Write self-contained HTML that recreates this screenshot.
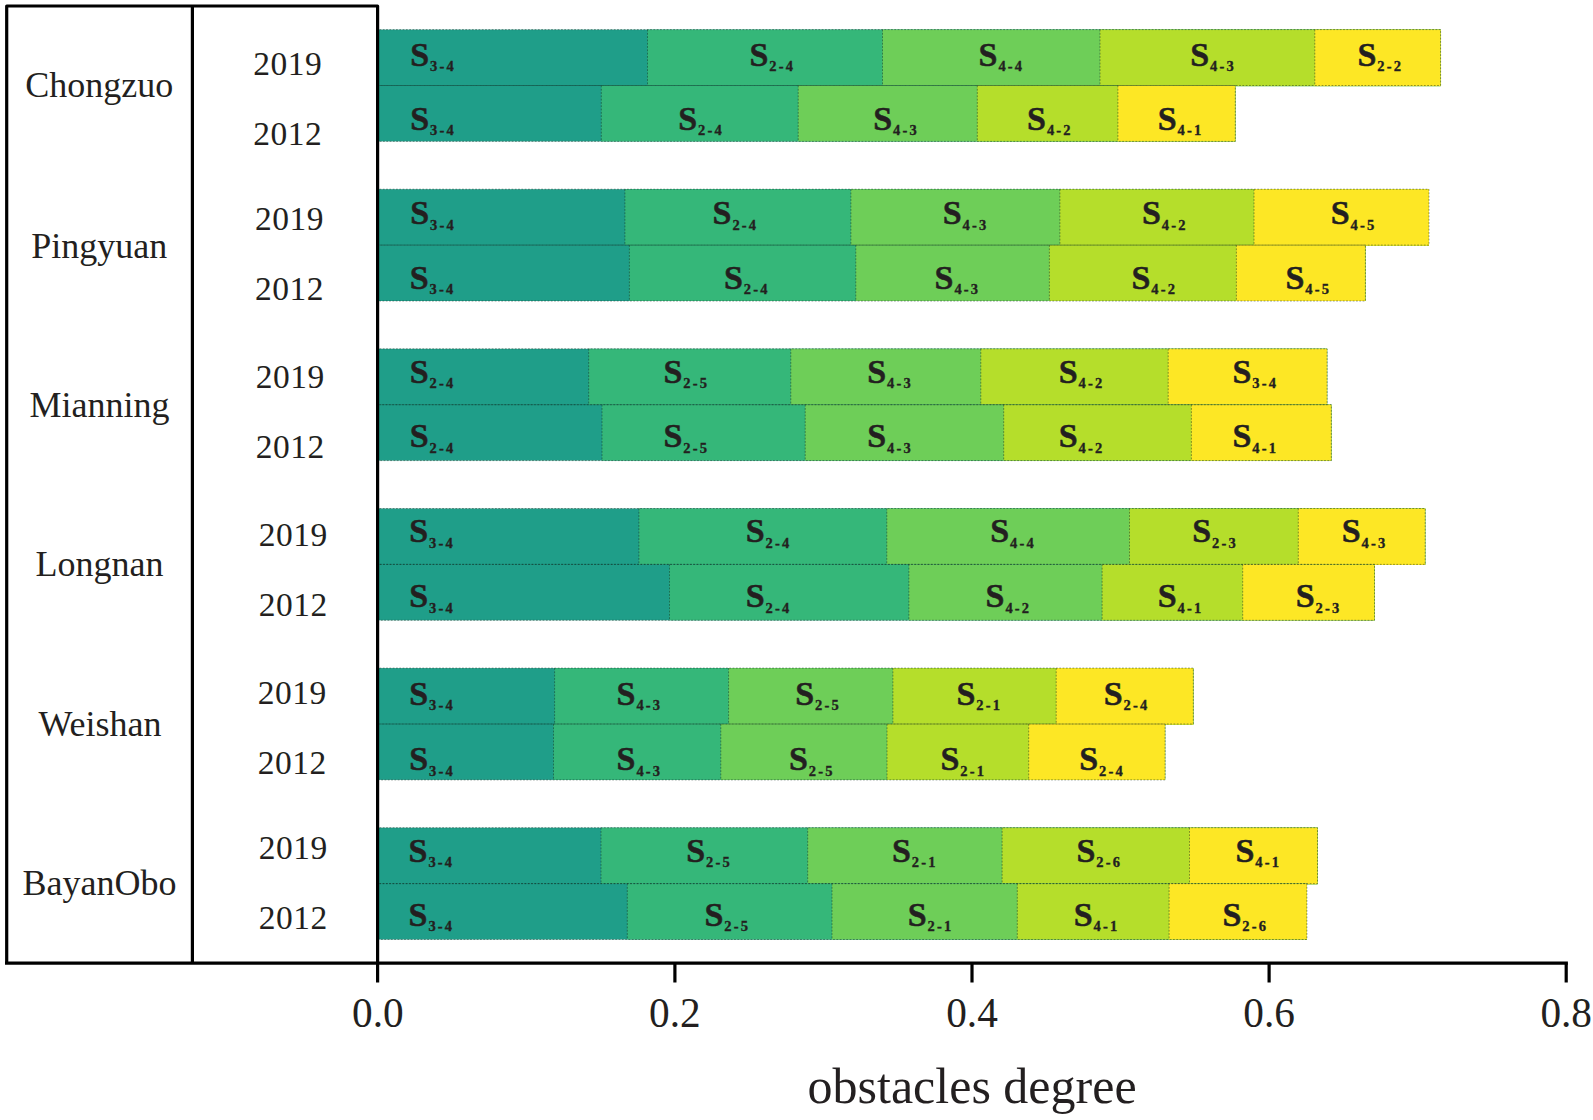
<!DOCTYPE html>
<html lang="en"><head><meta charset="utf-8"><title>obstacles degree</title>
<style>
html,body{margin:0;padding:0;background:#fff;}
svg{display:block;}
text{font-family:"Liberation Serif","Times New Roman",serif;fill:#231f20;}
.s{font-weight:bold;font-size:34px;stroke:#231f20;stroke-width:.5;}
.sub{font-weight:bold;font-size:14.5px;letter-spacing:2.2px;stroke:#231f20;stroke-width:.35;}
.yr{font-size:33.5px;letter-spacing:.5px;}
.city{font-size:36.0px;text-anchor:middle;}
.tick{font-size:41.3px;text-anchor:middle;}
.axl{font-size:50px;text-anchor:middle;}
.seg{fill:none;stroke:#10281f;stroke-opacity:.45;stroke-width:1;stroke-dasharray:1.8 1.5;}
.ln{stroke:#000;stroke-width:3.2;fill:none;stroke-linejoin:round;}
</style></head><body>
<svg width="1593" height="1120" viewBox="0 0 1593 1120">
<rect x="0" y="0" width="1593" height="1120" fill="#fff"/>
<g>
<rect x="378.0" y="29.6" width="1062.6" height="56.5" fill="#1f9e89"/>
<rect x="647.5" y="29.6" width="793.1" height="56.5" fill="#35b779"/>
<rect x="882.5" y="29.6" width="558.1" height="56.5" fill="#6ece58"/>
<rect x="1100.0" y="29.6" width="340.6" height="56.5" fill="#b5de2b"/>
<rect x="1314.8" y="29.6" width="125.8" height="56.5" fill="#fde725"/>
<text class="s" x="410.3" y="65.7">S</text><text class="sub" x="430.1" y="71.3">3-4</text>
<text class="s" x="749.5" y="65.7">S</text><text class="sub" x="769.3" y="71.3">2-4</text>
<text class="s" x="978.6" y="65.7">S</text><text class="sub" x="998.4" y="71.3">4-4</text>
<text class="s" x="1190.2" y="65.7">S</text><text class="sub" x="1210.0" y="71.3">4-3</text>
<text class="s" x="1357.5" y="65.7">S</text><text class="sub" x="1377.3" y="71.3">2-2</text>
<text class="yr" x="253.3" y="74.6">2019</text>
</g>
<g>
<rect x="378.0" y="85.5" width="857.3" height="55.9" fill="#1f9e89"/>
<rect x="601.3" y="85.5" width="634.0" height="55.9" fill="#35b779"/>
<rect x="798.2" y="85.5" width="437.1" height="55.9" fill="#6ece58"/>
<rect x="977.3" y="85.5" width="258.0" height="55.9" fill="#b5de2b"/>
<rect x="1117.9" y="85.5" width="117.4" height="55.9" fill="#fde725"/>
<text class="s" x="410.3" y="129.8">S</text><text class="sub" x="430.1" y="135.4">3-4</text>
<text class="s" x="678.2" y="129.8">S</text><text class="sub" x="698.0" y="135.4">2-4</text>
<text class="s" x="873.3" y="129.8">S</text><text class="sub" x="893.1" y="135.4">4-3</text>
<text class="s" x="1027.1" y="129.8">S</text><text class="sub" x="1046.9" y="135.4">4-2</text>
<text class="s" x="1157.8" y="129.8">S</text><text class="sub" x="1177.6" y="135.4">4-1</text>
<text class="yr" x="253.3" y="144.5">2012</text>
</g>
<g>
<rect x="378.0" y="189.2" width="1051.0" height="56.5" fill="#1f9e89"/>
<rect x="624.9" y="189.2" width="804.1" height="56.5" fill="#35b779"/>
<rect x="850.9" y="189.2" width="578.1" height="56.5" fill="#6ece58"/>
<rect x="1059.9" y="189.2" width="369.1" height="56.5" fill="#b5de2b"/>
<rect x="1254.0" y="189.2" width="175.0" height="56.5" fill="#fde725"/>
<text class="s" x="410.3" y="224.4">S</text><text class="sub" x="430.1" y="230.0">3-4</text>
<text class="s" x="712.6" y="224.4">S</text><text class="sub" x="732.4" y="230.0">2-4</text>
<text class="s" x="942.7" y="224.4">S</text><text class="sub" x="962.5" y="230.0">4-3</text>
<text class="s" x="1142.0" y="224.4">S</text><text class="sub" x="1161.8" y="230.0">4-2</text>
<text class="s" x="1330.8" y="224.4">S</text><text class="sub" x="1350.6" y="230.0">4-5</text>
<text class="yr" x="255.1" y="230.1">2019</text>
</g>
<g>
<rect x="378.0" y="245.1" width="987.4" height="55.9" fill="#1f9e89"/>
<rect x="629.4" y="245.1" width="736.0" height="55.9" fill="#35b779"/>
<rect x="855.8" y="245.1" width="509.6" height="55.9" fill="#6ece58"/>
<rect x="1049.4" y="245.1" width="316.0" height="55.9" fill="#b5de2b"/>
<rect x="1236.4" y="245.1" width="129.0" height="55.9" fill="#fde725"/>
<text class="s" x="409.8" y="288.8">S</text><text class="sub" x="429.6" y="294.4">3-4</text>
<text class="s" x="723.9" y="288.8">S</text><text class="sub" x="743.7" y="294.4">2-4</text>
<text class="s" x="934.6" y="288.8">S</text><text class="sub" x="954.4" y="294.4">4-3</text>
<text class="s" x="1131.5" y="288.8">S</text><text class="sub" x="1151.3" y="294.4">4-2</text>
<text class="s" x="1285.5" y="288.8">S</text><text class="sub" x="1305.3" y="294.4">4-5</text>
<text class="yr" x="255.1" y="299.7">2012</text>
</g>
<g>
<rect x="378.0" y="348.8" width="949.1" height="56.5" fill="#1f9e89"/>
<rect x="588.7" y="348.8" width="738.4" height="56.5" fill="#35b779"/>
<rect x="790.8" y="348.8" width="536.3" height="56.5" fill="#6ece58"/>
<rect x="980.8" y="348.8" width="346.3" height="56.5" fill="#b5de2b"/>
<rect x="1168.2" y="348.8" width="158.9" height="56.5" fill="#fde725"/>
<text class="s" x="409.8" y="382.8">S</text><text class="sub" x="429.6" y="388.4">2-4</text>
<text class="s" x="663.4" y="382.8">S</text><text class="sub" x="683.2" y="388.4">2-5</text>
<text class="s" x="867.3" y="382.8">S</text><text class="sub" x="887.1" y="388.4">4-3</text>
<text class="s" x="1058.7" y="382.8">S</text><text class="sub" x="1078.5" y="388.4">4-2</text>
<text class="s" x="1232.4" y="382.8">S</text><text class="sub" x="1252.2" y="388.4">3-4</text>
<text class="yr" x="255.7" y="387.5">2019</text>
</g>
<g>
<rect x="378.0" y="404.7" width="953.3" height="55.9" fill="#1f9e89"/>
<rect x="602.0" y="404.7" width="729.3" height="55.9" fill="#35b779"/>
<rect x="805.2" y="404.7" width="526.1" height="55.9" fill="#6ece58"/>
<rect x="1003.7" y="404.7" width="327.6" height="55.9" fill="#b5de2b"/>
<rect x="1191.4" y="404.7" width="139.9" height="55.9" fill="#fde725"/>
<text class="s" x="409.8" y="447.3">S</text><text class="sub" x="429.6" y="452.9">2-4</text>
<text class="s" x="663.4" y="447.3">S</text><text class="sub" x="683.2" y="452.9">2-5</text>
<text class="s" x="867.3" y="447.3">S</text><text class="sub" x="887.1" y="452.9">4-3</text>
<text class="s" x="1058.7" y="447.3">S</text><text class="sub" x="1078.5" y="452.9">4-2</text>
<text class="s" x="1232.4" y="447.3">S</text><text class="sub" x="1252.2" y="452.9">4-1</text>
<text class="yr" x="255.7" y="457.5">2012</text>
</g>
<g>
<rect x="378.0" y="508.5" width="1047.2" height="56.5" fill="#1f9e89"/>
<rect x="638.9" y="508.5" width="786.3" height="56.5" fill="#35b779"/>
<rect x="886.8" y="508.5" width="538.4" height="56.5" fill="#6ece58"/>
<rect x="1129.5" y="508.5" width="295.7" height="56.5" fill="#b5de2b"/>
<rect x="1298.3" y="508.5" width="126.9" height="56.5" fill="#fde725"/>
<text class="s" x="409.2" y="542.3">S</text><text class="sub" x="429.0" y="547.9">3-4</text>
<text class="s" x="745.7" y="542.3">S</text><text class="sub" x="765.5" y="547.9">2-4</text>
<text class="s" x="990.2" y="542.3">S</text><text class="sub" x="1010.0" y="547.9">4-4</text>
<text class="s" x="1192.3" y="542.3">S</text><text class="sub" x="1212.1" y="547.9">2-3</text>
<text class="s" x="1341.7" y="542.3">S</text><text class="sub" x="1361.5" y="547.9">4-3</text>
<text class="yr" x="258.7" y="546.3">2019</text>
</g>
<g>
<rect x="378.0" y="564.4" width="996.5" height="55.9" fill="#1f9e89"/>
<rect x="669.5" y="564.4" width="705.0" height="55.9" fill="#35b779"/>
<rect x="908.9" y="564.4" width="465.6" height="55.9" fill="#6ece58"/>
<rect x="1102.1" y="564.4" width="272.4" height="55.9" fill="#b5de2b"/>
<rect x="1242.7" y="564.4" width="131.8" height="55.9" fill="#fde725"/>
<text class="s" x="409.2" y="607.0">S</text><text class="sub" x="429.0" y="612.6">3-4</text>
<text class="s" x="745.7" y="607.0">S</text><text class="sub" x="765.5" y="612.6">2-4</text>
<text class="s" x="985.6" y="607.0">S</text><text class="sub" x="1005.4" y="612.6">4-2</text>
<text class="s" x="1157.8" y="607.0">S</text><text class="sub" x="1177.6" y="612.6">4-1</text>
<text class="s" x="1295.7" y="607.0">S</text><text class="sub" x="1315.5" y="612.6">2-3</text>
<text class="yr" x="258.7" y="616.2">2012</text>
</g>
<g>
<rect x="378.0" y="668.1" width="815.3" height="56.5" fill="#1f9e89"/>
<rect x="554.6" y="668.1" width="638.7" height="56.5" fill="#35b779"/>
<rect x="728.6" y="668.1" width="464.7" height="56.5" fill="#6ece58"/>
<rect x="892.9" y="668.1" width="300.4" height="56.5" fill="#b5de2b"/>
<rect x="1056.2" y="668.1" width="137.1" height="56.5" fill="#fde725"/>
<text class="s" x="409.2" y="704.8">S</text><text class="sub" x="429.0" y="710.4">3-4</text>
<text class="s" x="616.6" y="704.8">S</text><text class="sub" x="636.4" y="710.4">4-3</text>
<text class="s" x="795.2" y="704.8">S</text><text class="sub" x="815.0" y="710.4">2-5</text>
<text class="s" x="956.5" y="704.8">S</text><text class="sub" x="976.3" y="710.4">2-1</text>
<text class="s" x="1103.8" y="704.8">S</text><text class="sub" x="1123.6" y="710.4">2-4</text>
<text class="yr" x="257.8" y="704.0">2019</text>
</g>
<g>
<rect x="378.0" y="724.0" width="787.1" height="55.9" fill="#1f9e89"/>
<rect x="553.5" y="724.0" width="611.6" height="55.9" fill="#35b779"/>
<rect x="720.8" y="724.0" width="444.3" height="55.9" fill="#6ece58"/>
<rect x="887.0" y="724.0" width="278.1" height="55.9" fill="#b5de2b"/>
<rect x="1028.7" y="724.0" width="136.4" height="55.9" fill="#fde725"/>
<text class="s" x="409.2" y="770.0">S</text><text class="sub" x="429.0" y="775.6">3-4</text>
<text class="s" x="616.6" y="770.0">S</text><text class="sub" x="636.4" y="775.6">4-3</text>
<text class="s" x="788.9" y="770.0">S</text><text class="sub" x="808.7" y="775.6">2-5</text>
<text class="s" x="940.4" y="770.0">S</text><text class="sub" x="960.2" y="775.6">2-1</text>
<text class="s" x="1079.2" y="770.0">S</text><text class="sub" x="1099.0" y="775.6">2-4</text>
<text class="yr" x="257.8" y="774.3">2012</text>
</g>
<g>
<rect x="378.0" y="827.7" width="939.5" height="56.5" fill="#1f9e89"/>
<rect x="601.0" y="827.7" width="716.5" height="56.5" fill="#35b779"/>
<rect x="807.7" y="827.7" width="509.8" height="56.5" fill="#6ece58"/>
<rect x="1002.1" y="827.7" width="315.4" height="56.5" fill="#b5de2b"/>
<rect x="1189.5" y="827.7" width="128.0" height="56.5" fill="#fde725"/>
<text class="s" x="408.6" y="861.8">S</text><text class="sub" x="428.4" y="867.4">3-4</text>
<text class="s" x="686.2" y="861.8">S</text><text class="sub" x="706.0" y="867.4">2-5</text>
<text class="s" x="892.0" y="861.8">S</text><text class="sub" x="911.8" y="867.4">2-1</text>
<text class="s" x="1076.5" y="861.8">S</text><text class="sub" x="1096.3" y="867.4">2-6</text>
<text class="s" x="1235.4" y="861.8">S</text><text class="sub" x="1255.2" y="867.4">4-1</text>
<text class="yr" x="258.7" y="859.2">2019</text>
</g>
<g>
<rect x="378.0" y="883.6" width="928.9" height="55.9" fill="#1f9e89"/>
<rect x="627.3" y="883.6" width="679.6" height="55.9" fill="#35b779"/>
<rect x="832.0" y="883.6" width="474.9" height="55.9" fill="#6ece58"/>
<rect x="1017.3" y="883.6" width="289.6" height="55.9" fill="#b5de2b"/>
<rect x="1169.1" y="883.6" width="137.8" height="55.9" fill="#fde725"/>
<text class="s" x="408.6" y="925.8">S</text><text class="sub" x="428.4" y="931.4">3-4</text>
<text class="s" x="704.5" y="925.8">S</text><text class="sub" x="724.3" y="931.4">2-5</text>
<text class="s" x="907.8" y="925.8">S</text><text class="sub" x="927.6" y="931.4">2-1</text>
<text class="s" x="1073.7" y="925.8">S</text><text class="sub" x="1093.5" y="931.4">4-1</text>
<text class="s" x="1222.4" y="925.8">S</text><text class="sub" x="1242.2" y="931.4">2-6</text>
<text class="yr" x="258.7" y="928.6">2012</text>
</g>
<path class="seg" d="M379.5 29.6 H1440.6 V85.5 H379.5 M647.5 29.6 V85.5 M882.5 29.6 V85.5 M1100.0 29.6 V85.5 M1314.8 29.6 V85.5"/>
<path class="seg" d="M379.5 85.5 H1235.3 V141.4 H379.5 M601.3 85.5 V141.4 M798.2 85.5 V141.4 M977.3 85.5 V141.4 M1117.9 85.5 V141.4"/>
<path class="seg" d="M379.5 189.2 H1429.0 V245.1 H379.5 M624.9 189.2 V245.1 M850.9 189.2 V245.1 M1059.9 189.2 V245.1 M1254.0 189.2 V245.1"/>
<path class="seg" d="M379.5 245.1 H1365.4 V301.0 H379.5 M629.4 245.1 V301.0 M855.8 245.1 V301.0 M1049.4 245.1 V301.0 M1236.4 245.1 V301.0"/>
<path class="seg" d="M379.5 348.8 H1327.1 V404.7 H379.5 M588.7 348.8 V404.7 M790.8 348.8 V404.7 M980.8 348.8 V404.7 M1168.2 348.8 V404.7"/>
<path class="seg" d="M379.5 404.7 H1331.3 V460.6 H379.5 M602.0 404.7 V460.6 M805.2 404.7 V460.6 M1003.7 404.7 V460.6 M1191.4 404.7 V460.6"/>
<path class="seg" d="M379.5 508.5 H1425.2 V564.4 H379.5 M638.9 508.5 V564.4 M886.8 508.5 V564.4 M1129.5 508.5 V564.4 M1298.3 508.5 V564.4"/>
<path class="seg" d="M379.5 564.4 H1374.5 V620.3 H379.5 M669.5 564.4 V620.3 M908.9 564.4 V620.3 M1102.1 564.4 V620.3 M1242.7 564.4 V620.3"/>
<path class="seg" d="M379.5 668.1 H1193.3 V724.0 H379.5 M554.6 668.1 V724.0 M728.6 668.1 V724.0 M892.9 668.1 V724.0 M1056.2 668.1 V724.0"/>
<path class="seg" d="M379.5 724.0 H1165.1 V779.9 H379.5 M553.5 724.0 V779.9 M720.8 724.0 V779.9 M887.0 724.0 V779.9 M1028.7 724.0 V779.9"/>
<path class="seg" d="M379.5 827.7 H1317.5 V883.6 H379.5 M601.0 827.7 V883.6 M807.7 827.7 V883.6 M1002.1 827.7 V883.6 M1189.5 827.7 V883.6"/>
<path class="seg" d="M379.5 883.6 H1306.9 V939.5 H379.5 M627.3 883.6 V939.5 M832.0 883.6 V939.5 M1017.3 883.6 V939.5 M1169.1 883.6 V939.5"/>
<text class="city" x="99.3" y="97.3">Chongzuo</text>
<text class="city" x="99.3" y="257.5">Pingyuan</text>
<text class="city" x="99.6" y="417.0">Mianning</text>
<text class="city" x="99.5" y="576.4">Longnan</text>
<text class="city" x="100.0" y="735.9">Weishan</text>
<text class="city" x="99.6" y="895.2">BayanObo</text>
<path class="ln" d="M6.7 963.2 V6 H377.6 V982.5"/>
<path class="ln" d="M192.4 6 V963.2"/>
<path class="ln" d="M5 963.2 H1567.9"/>
<path class="ln" d="M674.9 963.2 V982.5"/>
<path class="ln" d="M972.0 963.2 V982.5"/>
<path class="ln" d="M1269.1 963.2 V982.5"/>
<path class="ln" d="M1566.2 963.2 V982.5"/>
<text class="tick" x="377.8" y="1026.9">0.0</text>
<text class="tick" x="674.9" y="1026.9">0.2</text>
<text class="tick" x="972.0" y="1026.9">0.4</text>
<text class="tick" x="1269.1" y="1026.9">0.6</text>
<text class="tick" x="1566.2" y="1026.9">0.8</text>
<text class="axl" x="972.1" y="1103">obstacles degree</text>
</svg>
</body></html>
